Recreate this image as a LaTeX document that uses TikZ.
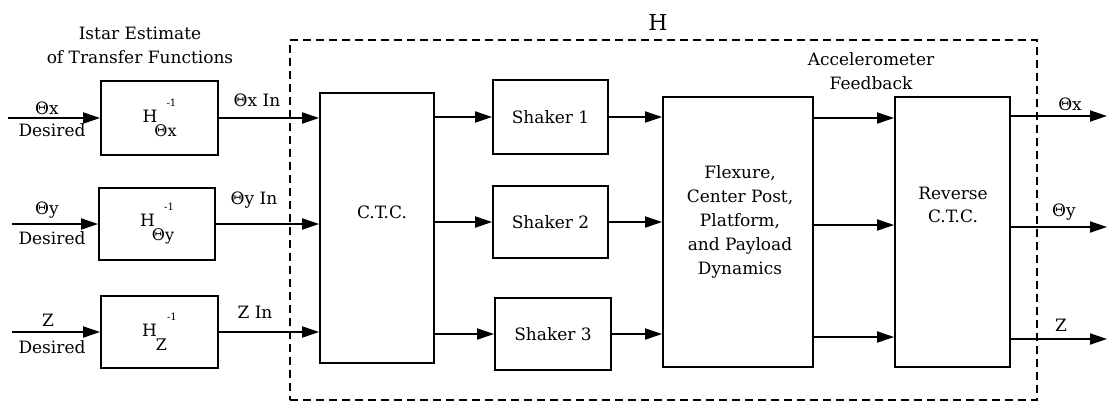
\documentclass[tikz,border=0pt]{standalone}
\usepackage{fontspec}
\setmainfont{DejaVu Serif}
\usetikzlibrary{arrows.meta}
\newcommand{\Hsub}[3][-3pt]{H\kern#1\raisebox{-14pt}{\fontsize{16}{16}\selectfont #3}\kern#2\raisebox{16pt}{\fontsize{10}{10}\selectfont -1}}
\begin{document}
\begin{tikzpicture}[x=1pt,y=-1pt,
  font=\fontsize{17}{24}\selectfont,
  blk/.style={draw,line width=1.8pt,inner sep=0pt},
  txt/.style={inner sep=0pt,align=center},
  arr/.style={line width=1.8pt,-{Triangle[length=17pt,width=11pt]}},
  dashbox/.style={draw,line width=1.8pt,dash pattern=on 8pt off 5pt,inner sep=0pt}]
\useasboundingbox (0,0) rectangle (1108,405);
% dashed H box
\node[dashbox,minimum width=747pt,minimum height=360pt] (hbox) at (663.5,220) {};
\node[txt,font=\fontsize{22}{30}\selectfont] (hl) at (658,22) {H};
% titles
\node[txt] (ist) at (140,45) {Istar Estimate\\of Transfer Functions};
\node[txt] (acc) at (871,71) {Accelerometer\\Feedback};
% inverse blocks
\node[blk,minimum width=117pt,minimum height=74pt] (hx) at (159.5,118) {\Hsub{-10pt}{Θx}};
\node[blk,minimum width=116pt,minimum height=72pt] (hy) at (157,224) {\Hsub{-10pt}{Θy}};
\node[blk,minimum width=117pt,minimum height=72pt] (hz) at (159.5,332) {\Hsub[-1pt]{0pt}{Z}};
% main blocks
\node[blk,minimum width=114pt,minimum height=270pt] (ctc) at (377,228) {};
\node[txt] (ctct) at (382,212) {C.T.C.};
\node[blk,minimum width=115pt,minimum height=74pt] (s1) at (550.5,117) {Shaker 1};
\node[blk,minimum width=115pt,minimum height=72pt] (s2) at (550.5,222) {Shaker 2};
\node[blk,minimum width=116pt,minimum height=72pt] (s3) at (553,334) {Shaker 3};
\node[blk,minimum width=150pt,minimum height=270pt] (flex) at (738,232) {};
\node[txt] (flext) at (740,222) {Flexure,\\Center Post,\\Platform,\\and Payload\\Dynamics};
\node[blk,minimum width=115pt,minimum height=270pt] (rev) at (952.5,232) {};
\node[txt,font=\fontsize{17}{23}\selectfont] (revt) at (953,205) {Reverse\\C.T.C.};
% inputs
\coordinate (ix) at (8,118);
\coordinate (iy) at (12,224);
\coordinate (iz) at (12,332);
\draw[arr] (ix) -- (hx.west);
\draw[arr] (iy) -- (hy.west);
\draw[arr] (iz) -- (hz.west);
\node[txt] (lx) at (47,108) {Θx};
\node[txt] (dx) at (52,130) {Desired};
\node[txt] (ly) at (47,210) {Θy};
\node[txt] (dy) at (52,238) {Desired};
\node[txt] (lz) at (48,320) {Z};
\node[txt] (dz) at (52,347) {Desired};
% to CTC
\draw[arr] (hx.east) -- (hx.east -| ctc.west);
\draw[arr] (hy.east) -- (hy.east -| ctc.west);
\draw[arr] (hz.east) -- (hz.east -| ctc.west);
\node[txt] (lxi) at (257,100) {Θx In};
\node[txt] (lyi) at (254,200) {Θy In};
\node[txt] (lzi) at (255,312) {Z In};
% CTC to shakers
\draw[arr] (s1.west -| ctc.east) -- (s1.west);
\draw[arr] (s2.west -| ctc.east) -- (s2.west);
\draw[arr] (s3.west -| ctc.east) -- (s3.west);
% shakers to flexure
\draw[arr] (s1.east) -- (s1.east -| flex.west);
\draw[arr] (s2.east) -- (s2.east -| flex.west);
\draw[arr] (s3.east) -- (s3.east -| flex.west);
% flexure to reverse
\coordinate (r1) at (0,118);
\coordinate (r2) at (0,225);
\coordinate (r3) at (0,337);
\draw[arr] (flex.east |- r1) -- (rev.west |- r1);
\draw[arr] (flex.east |- r2) -- (rev.west |- r2);
\draw[arr] (flex.east |- r3) -- (rev.west |- r3);
% outputs
\coordinate (o1) at (1107,116);
\coordinate (o2) at (1107,227);
\coordinate (o3) at (1107,339);
\draw[arr] (rev.east |- o1) -- (o1);
\draw[arr] (rev.east |- o2) -- (o2);
\draw[arr] (rev.east |- o3) -- (o3);
\node[txt] (ox) at (1070,104) {Θx};
\node[txt] (oy) at (1064,212) {Θy};
\node[txt] (oz) at (1061,325) {Z};
\end{tikzpicture}
\end{document}
